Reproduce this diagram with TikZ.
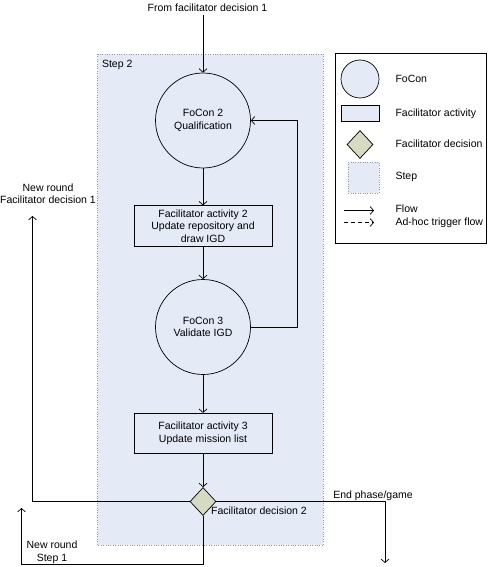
\documentclass[tikz,border=0pt]{standalone}
\usepackage{fontspec}
\setmainfont{Liberation Sans}
\usetikzlibrary{positioning,calc,shapes.geometric,arrows.meta}
\definecolor{colorStep}{RGB}{228,234,246}
\definecolor{colorDec}{RGB}{214,218,192}
\tikzset{
   every node/.style={font=\fontsize{10.5}{12.5}\selectfont,align=center},
   flow/.style={-{Straight Barb[length=3.5pt,width=8pt]},line width=0.7pt},
   adhoc/.style={flow,dash pattern=on 4pt off 3pt},
   focon/.style={circle,draw,line width=0.7pt,fill=colorStep,minimum size=95pt,inner sep=0pt},
   activity/.style={rectangle,draw,line width=0.7pt,fill=colorStep,minimum width=138pt,minimum height=40.5pt,inner sep=1pt},
   decision/.style={diamond,draw,line width=0.7pt,fill=colorDec,minimum width=26pt,minimum height=28pt,inner sep=0pt},
   steprect/.style={draw=gray!80,dotted,fill=colorStep},
}

\begin{document}
\begin{tikzpicture}[x=1pt,y=-1pt]

      \useasboundingbox (0,0) rectangle (487,567);

      % step area
      \draw[steprect] (97.5,54) rectangle (323,545);
      \node (step2) [anchor=west] at (98.5,65) {Step 2};

      \node (from) at (207.5,8) {From facilitator decision 1};

      \node[focon] (fc2) at (203,120.5) {FoCon 2\\Qualification};
      \node[activity] (fa2) at (203,226) {Facilitator activity 2\\Update repository and\\draw IGD};
      \node[focon] (fc3) at (203,327) {FoCon 3\\Validate IGD};
      \node[activity] (fa3) at (203,433.5) {Facilitator activity 3\\Update mission list};
      \node[decision] (fd2) at (203,501.5) {};

      \node (fd2lbl) at (259,511) {Facilitator decision 2};
      \node (nrfd1) at (48,193.5) {New round\\Facilitator decision 1};
      \node (nrs1) at (52,552.5) {New round\\Step 1};
      \node (endpg) at (373,496) {End phase/game};

      \coordinate (loop) at (297,120.5);
      \coordinate (nr1) at (32.5,216);
      \coordinate (endp) at (385,563);
      \coordinate (bl) at (21.5,564);
      \coordinate (nrs) at (21.5,508);

      \draw[flow] (fc2.north |- from.south) -- (fc2.north);
      \draw[flow] (fc2) -- (fa2);
      \draw[flow] (fa2) -- (fc3);
      \draw[flow] (fc3) -- (fa3);
      \draw[flow] (fa3) -- (fd2);
      \draw[flow] (fc3.east) -| (loop) -- (fc2.east);
      \draw[flow] (fd2.west) -| (nr1);
      \draw[flow] (fd2.east) -| (endp);
      \draw[flow] (fd2.south) |- (bl) -- (nrs);

      % legend
      \draw[line width=0.7pt] (335,53.5) rectangle (486,243);
      \node[focon,minimum size=38pt] (lgfocon) at (360,79) {};
      \node[activity,minimum width=38pt,minimum height=16.5pt] (lgact) at (360,113.5) {};
      \node[decision] (lgdec) at (360,144.5) {};
      \node[steprect,minimum width=30.5pt,minimum height=30.5pt] (lgstep) at (363.5,177.5) {};
      \coordinate (lgfa) at (344,210.5);
      \coordinate (lgfb) at (374,210.5);
      \coordinate (lgda) at (344,222.5);
      \coordinate (lgdb) at (374,222.5);
      \draw[flow] (lgfa) -- (lgfb);
      \draw[adhoc] (lgda) -- (lgdb);
      \node[anchor=west] at (392,79) {FoCon};
      \node[anchor=west] at (392,113.5) {Facilitator activity};
      \node[anchor=west] at (392,144) {Facilitator decision};
      \node[anchor=west] at (392,176.5) {Step};
      \node[anchor=west] at (392,209) {Flow};
      \node[anchor=west] at (392,222.5) {Ad-hoc trigger flow};

    \end{tikzpicture}
\end{document}
